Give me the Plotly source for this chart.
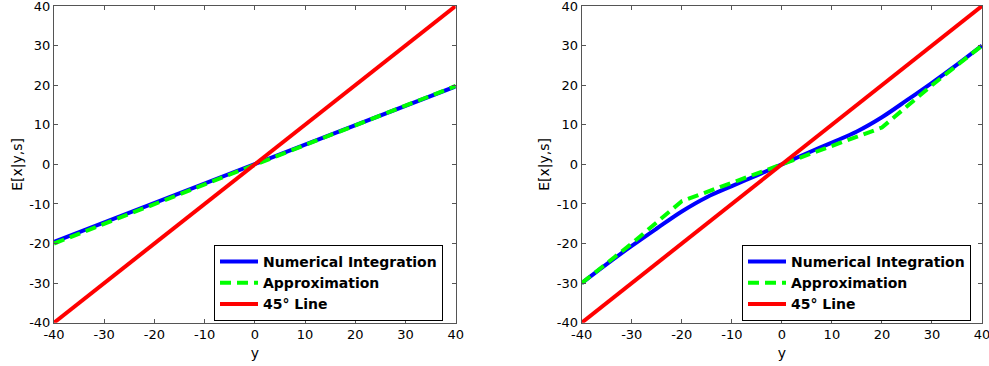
import plotly.graph_objects as go

# ---- data ----
y_left = [-40, -20, 0, 20, 40]
numint_left = [-19.6, -9.8, 0, 9.8, 19.7]
approx_left = [-20.0, -10.0, 0, 9.9, 19.8]

y_right = [-40, -35, -30, -25, -20, -15, -10, -5, 0, 5, 10, 15, 20, 25, 30, 35, 40]
numint_right = [-30, -25.2, -20.6, -16.2, -11.9, -8.3, -5.5, -2.8, 0, 2.8, 5.5, 8.3, 11.9, 16.2, 20.6, 25.2, 30]
y_approx_right = [-40, -30, -20, -10, 0, 10, 20, 30, 40]
approx_right = [-30, -20, -9.3, -4.7, 0, 4.7, 9.3, 20, 30]

y_diag = [-40, 40]
diag = [-40, 40]

ticks = [-40, -30, -20, -10, 0, 10, 20, 30, 40]
tick_text = [str(t) for t in ticks]

names = ["Numerical Integration", "Approximation", "45° Line"]

W, H = 989, 366
FONT = "DejaVu Sans, sans-serif"
AX = "#555555"

fig = go.Figure()

def add_set(xa, ya, legend, xs_n, ys_n, xs_a, ys_a, smooth):
    fig.add_trace(go.Scatter(x=xs_n, y=ys_n, mode="lines", name=names[0],
                             line=dict(color="#0000ff", width=4, shape="spline" if smooth else "linear"),
                             xaxis=xa, yaxis=ya, legend=legend))
    fig.add_trace(go.Scatter(x=xs_a, y=ys_a, mode="lines", name=names[1],
                             line=dict(color="#00ff00", width=4, dash="11px,6px"),
                             xaxis=xa, yaxis=ya, legend=legend))
    fig.add_trace(go.Scatter(x=y_diag, y=diag, mode="lines", name=names[2],
                             line=dict(color="#ff0000", width=4),
                             xaxis=xa, yaxis=ya, legend=legend))

add_set("x", "y", "legend", y_left, numint_left, y_left, approx_left, False)
add_set("x2", "y2", "legend2", y_right, numint_right, y_approx_right, approx_right, True)

ydom = [1 - 322.7 / H, 1 - 6.0 / H]
common_x = dict(range=[-40, 40], tickvals=ticks, ticktext=tick_text, ticks="inside", ticklen=4,
                tickcolor=AX, showline=True, linecolor=AX, linewidth=1, mirror="ticks",
                showgrid=False, zeroline=False, automargin=False, ticklabeloverflow="allow",
                tickfont=dict(family=FONT, size=13, color="black"),
                title=dict(text="y", font=dict(family=FONT, size=14, color="black"), standoff=6))
common_y = dict(range=[-40, 40], tickvals=ticks, ticktext=tick_text, ticks="inside", ticklen=4,
                tickcolor=AX, showline=True, linecolor=AX, linewidth=1, mirror="ticks",
                showgrid=False, zeroline=False, automargin=False, ticklabeloverflow="allow",
                tickfont=dict(family=FONT, size=13, color="black"),
                title=dict(text="E[x|y,s]", font=dict(family=FONT, size=14, color="black"), standoff=3),
                domain=ydom)

leg_common = dict(xanchor="left", yanchor="top", bordercolor="black", borderwidth=1,
                  bgcolor="white", itemwidth=38, tracegroupgap=0,
                  entrywidth=195, entrywidthmode="pixels",
                  font=dict(family=FONT, size=14, color="black", weight="bold"))

fig.update_layout(
    width=W, height=H,
    margin=dict(l=0, r=0, t=0, b=0, autoexpand=False),
    paper_bgcolor="white", plot_bgcolor="white",
    xaxis=dict(common_x, domain=[54 / W, 455.7 / W], anchor="y"),
    yaxis=dict(common_y, anchor="x"),
    xaxis2=dict(common_x, domain=[581.7 / W, 982 / W], anchor="y2"),
    yaxis2=dict(common_y, anchor="x2"),
    legend=dict(leg_common, x=214 / W, y=1 - 245 / H),
    legend2=dict(leg_common, x=742 / W, y=1 - 245 / H),
    showlegend=True,
)

fig.write_html("out.html", config={"displayModeBar": False},
               post_script="document.body.style.margin='0px';document.body.style.padding='0px';")
